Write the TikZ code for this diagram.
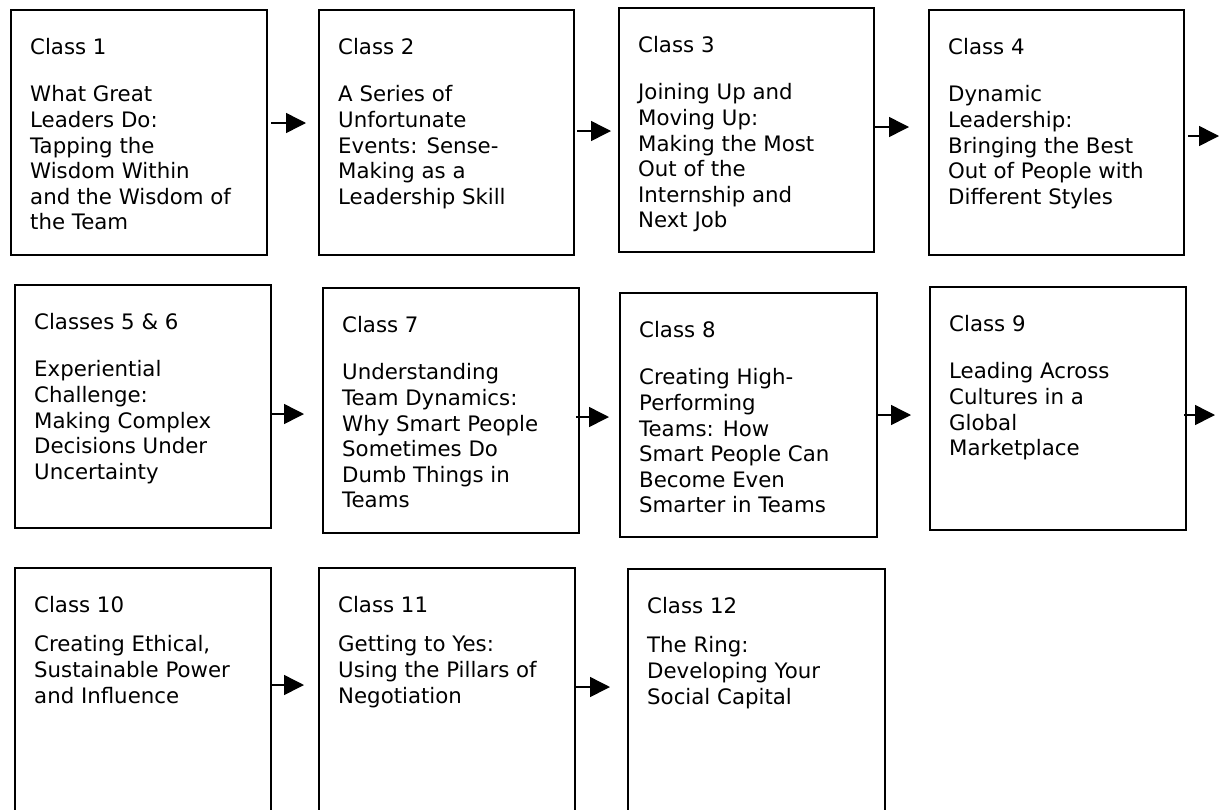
\documentclass[tikz,border=0pt]{standalone}
\usepackage{fontspec}
\setmainfont{DejaVu Sans}
\usetikzlibrary{arrows.meta,calc}

% #1 name, #2 left, #3 top, #4 width, #5 height, #6 extra gap below title, #7 title, #8 body
\newcommand\mkcourse[8]{%
  \node[classbox,minimum width=#4pt,minimum height=#5pt] (#1) at (#2,#3) {};
  \node[classtext] (#1t) at ($(#1.north west)+(20,27)$)
    {\rule{0pt}{18pt}#7\\[#6pt]#8};
}

\begin{document}
\begin{tikzpicture}[x=1pt,y=-1pt,
  classbox/.style={draw=black,line width=1.5pt,rectangle,inner sep=0pt,anchor=north west},
  classtext/.style={anchor=north west,inner sep=0pt,align=left,
    font=\fontsize{21.3}{25.6}\selectfont},
  flow/.style={line width=1.5pt,-{Triangle[length=20pt,width=20pt]}}]
\useasboundingbox[fill=white] (0,0) rectangle (1222,809);
\clip (0,0) rectangle (1222,809);

% first row
\mkcourse{b1}{10}{9}{256}{245}{22}{Class 1}{What Great\\Leaders Do:\\Tapping the\\Wisdom Within\\and the Wisdom of\\the Team}
\mkcourse{b2}{318}{9}{255}{245}{22}{Class 2}{A Series of\\Unfortunate\\Events: Sense-\\Making as a\\Leadership Skill}
\mkcourse{b3}{618}{7}{255}{244}{22}{Class 3}{Joining Up and\\Moving Up:\\Making the Most\\Out of the\\Internship and\\Next Job}
\mkcourse{b4}{928}{9}{255}{245}{22}{Class 4}{Dynamic\\Leadership:\\Bringing the Best\\Out of People with\\Different Styles}

% second row
\mkcourse{b5}{14}{284}{256}{243}{22}{Classes 5 \& 6}{Experiential\\Challenge:\\Making Complex\\Decisions Under\\Uncertainty}
\mkcourse{b6}{322}{287}{256}{245}{22}{Class 7}{Understanding\\Team Dynamics:\\Why Smart People\\Sometimes Do\\Dumb Things in\\Teams}
\mkcourse{b7}{619}{292}{257}{244}{22}{Class 8}{Creating High-\\Performing\\Teams: How\\Smart People Can\\Become Even\\Smarter in Teams}
\mkcourse{b8}{929}{286}{256}{243}{22}{Class 9}{Leading Across\\Cultures in a\\Global\\Marketplace}

% third row (runs past the lower edge)
\mkcourse{b9}{14}{567}{256}{263}{14}{Class 10}{Creating Ethical,\\Sustainable Power\\and Influence}
\mkcourse{b10}{318}{567}{256}{263}{14}{Class 11}{Getting to Yes:\\Using the Pillars of\\Negotiation}
\mkcourse{b11}{627}{568}{257}{262}{14}{Class 12}{The Ring:\\Developing Your\\Social Capital}

% arrow starts
\coordinate (s1) at (271,123);
\coordinate (s2) at (577,131);
\coordinate (s3) at (875,127);
\coordinate (s4) at (1188,136);
\coordinate (e4) at (1219,136);
\coordinate (s5) at (271,414);
\coordinate (s6) at (576,417);
\coordinate (s7) at (877,415);
\coordinate (s8) at (1184,415);
\coordinate (e8) at (1215,415);
\coordinate (s9) at (272,685);
\coordinate (s10) at (576,687);

% arrows between classes
\draw[flow,shorten >=12pt] (s1) -- (s1 -| b2.west);
\draw[flow,shorten >=7pt]  (s2) -- (s2 -| b3.west);
\draw[flow,shorten >=19pt] (s3) -- (s3 -| b4.west);
\draw[flow] (s4) -- (e4);
\draw[flow,shorten >=18pt] (s5) -- (s5 -| b6.west);
\draw[flow,shorten >=10pt] (s6) -- (s6 -| b7.west);
\draw[flow,shorten >=18pt] (s7) -- (s7 -| b8.west);
\draw[flow] (s8) -- (e8);
\draw[flow,shorten >=14pt] (s9) -- (s9 -| b10.west);
\draw[flow,shorten >=17pt] (s10) -- (s10 -| b11.west);
\end{tikzpicture}
\end{document}
